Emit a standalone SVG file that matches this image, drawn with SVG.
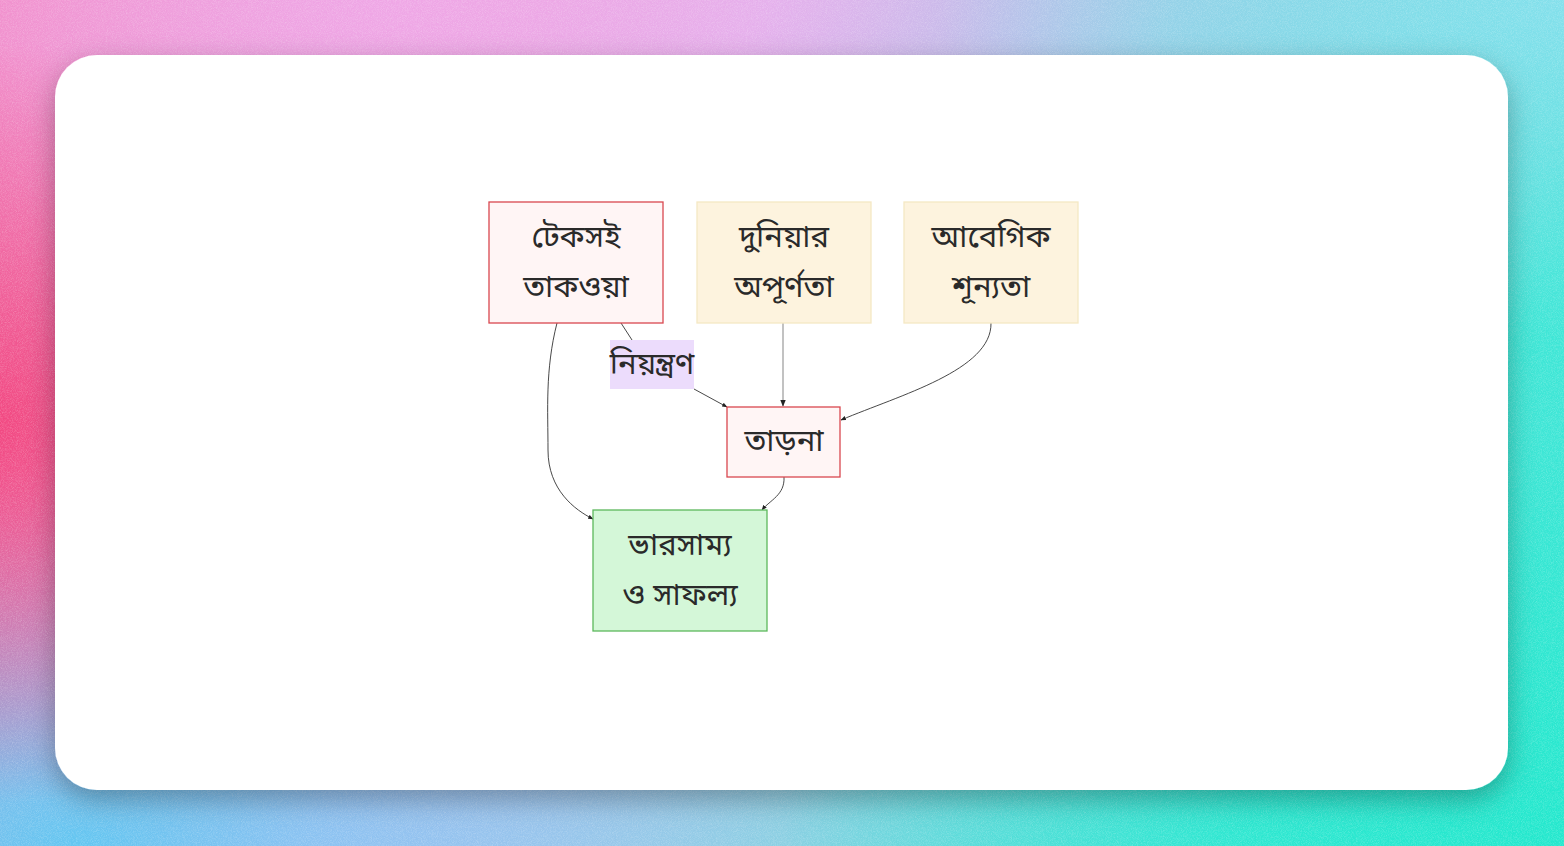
<svg xmlns="http://www.w3.org/2000/svg" width="1564" height="846" viewBox="0 0 1564 846">
<defs>
<linearGradient id="bgL" x1="0" y1="0" x2="1" y2="0.3">
<stop offset="0" stop-color="#f27fb8"/>
<stop offset="0.45" stop-color="#dcb8f0"/>
<stop offset="1" stop-color="#3fe6d6"/>
</linearGradient>
<radialGradient id="rLeft" cx="0" cy="0.5" r="0.45" gradientTransform="scale(0.6 1)">
<stop offset="0" stop-color="#f2457e" stop-opacity="0.95"/>
<stop offset="1" stop-color="#f2457e" stop-opacity="0"/>
</radialGradient>
<radialGradient id="rTop" cx="0.25" cy="0" r="0.5">
<stop offset="0" stop-color="#f0a8e8" stop-opacity="0.9"/>
<stop offset="1" stop-color="#f0a8e8" stop-opacity="0"/>
</radialGradient>
<radialGradient id="rBL" cx="0.05" cy="1" r="0.45">
<stop offset="0" stop-color="#5cc8f2" stop-opacity="0.95"/>
<stop offset="1" stop-color="#5cc8f2" stop-opacity="0"/>
</radialGradient>
<radialGradient id="rTR" cx="1" cy="0" r="0.4">
<stop offset="0" stop-color="#8fe0f0" stop-opacity="0.8"/>
<stop offset="1" stop-color="#8fe0f0" stop-opacity="0"/>
</radialGradient>
<radialGradient id="rBR" cx="1" cy="1" r="0.5">
<stop offset="0" stop-color="#20e8cc" stop-opacity="0.9"/>
<stop offset="1" stop-color="#20e8cc" stop-opacity="0"/>
</radialGradient>
<filter id="noise" x="0" y="0" width="100%" height="100%">
<feTurbulence type="fractalNoise" baseFrequency="1.2" numOctaves="2" seed="3" result="n"/>
<feColorMatrix type="matrix" values="0 0 0 0 1  0 0 0 0 1  0 0 0 0 1  1.2 0 0 0 -0.45"/>
</filter>
<filter id="shadow" x="-10%" y="-10%" width="120%" height="130%">
<feDropShadow dx="0" dy="10" stdDeviation="14" flood-color="#000" flood-opacity="0.3"/>
</filter>
<marker id="arr" viewBox="0 0 10 10" refX="9" refY="5" markerWidth="6" markerHeight="6" orient="auto-start-reverse">
<path d="M0,1 L10,5 L0,9 z" fill="#222"/>
</marker>
<style>
.t{font-family:"Noto Sans Bengali","Noto Sans","Noto Serif Bengali",sans-serif;font-size:31px;fill:#2a2a2a;text-anchor:middle}
.red{fill:#fff5f5;stroke:#d9474f;stroke-width:1.3}
.tan{fill:#fdf3de;stroke:#f5e8c4;stroke-width:1.3}
.green{fill:#d4f7d8;stroke:#5cb85c;stroke-width:1.3}
.e{fill:none;stroke:#333;stroke-width:0.9}
</style>
</defs>
<rect width="1564" height="846" fill="url(#bgL)"/>
<rect width="1564" height="846" fill="url(#rTop)"/>
<rect width="1564" height="846" fill="url(#rTR)"/>
<rect width="1564" height="846" fill="url(#rBR)"/>
<rect width="1564" height="846" fill="url(#rBL)"/>
<rect width="1564" height="846" fill="url(#rLeft)"/>
<rect width="1564" height="846" filter="url(#noise)" opacity="0.35"/>
<rect x="55" y="55" width="1453" height="735" rx="42" fill="#fff" filter="url(#shadow)"/>

<g id="connectors">
<path class="e" d="M621,323 L632,340"/>
<path class="e" d="M694,389 L727,407" marker-end="url(#arr)"/>
<path class="e" d="M783,323 L783,406" style="stroke:#999;stroke-width:1.2" marker-end="url(#arr)"/>
<path class="e" d="M991,323 C992,370 900,395 841,420" marker-end="url(#arr)"/>
<path class="e" d="M557,323 C545,370 548,410 548,450 C548,490 575,510 593,519" marker-end="url(#arr)"/>
<path class="e" d="M784,477 C785,495 770,500 762,510" marker-end="url(#arr)"/>
</g>

<g id="edge-label">
<rect x="610" y="340" width="84" height="49" fill="#ecdcfc"/>
<text class="t" x="652" y="374">নিয়ন্ত্রণ</text>
</g>

<g id="n1">
<rect class="red" x="489" y="202" width="174" height="121"/>
<text class="t" x="576" y="247">টেকসই</text>
<text class="t" x="576" y="297">তাকওয়া</text>
</g>
<g id="n2">
<rect class="tan" x="697" y="202" width="174" height="121"/>
<text class="t" x="784" y="247">দুনিয়ার</text>
<text class="t" x="784" y="297">অপূর্ণতা</text>
</g>
<g id="n3">
<rect class="tan" x="904" y="202" width="174" height="121"/>
<text class="t" x="991" y="247">আবেগিক</text>
<text class="t" x="991" y="297">শূন্যতা</text>
</g>
<g id="n4">
<rect class="red" x="727" y="407" width="113" height="70"/>
<text class="t" x="784" y="451">তাড়না</text>
</g>
<g id="n5">
<rect class="green" x="593" y="510" width="174" height="121"/>
<text class="t" x="680" y="555">ভারসাম্য</text>
<text class="t" x="680" y="605">ও সাফল্য</text>
</g>
</svg>
